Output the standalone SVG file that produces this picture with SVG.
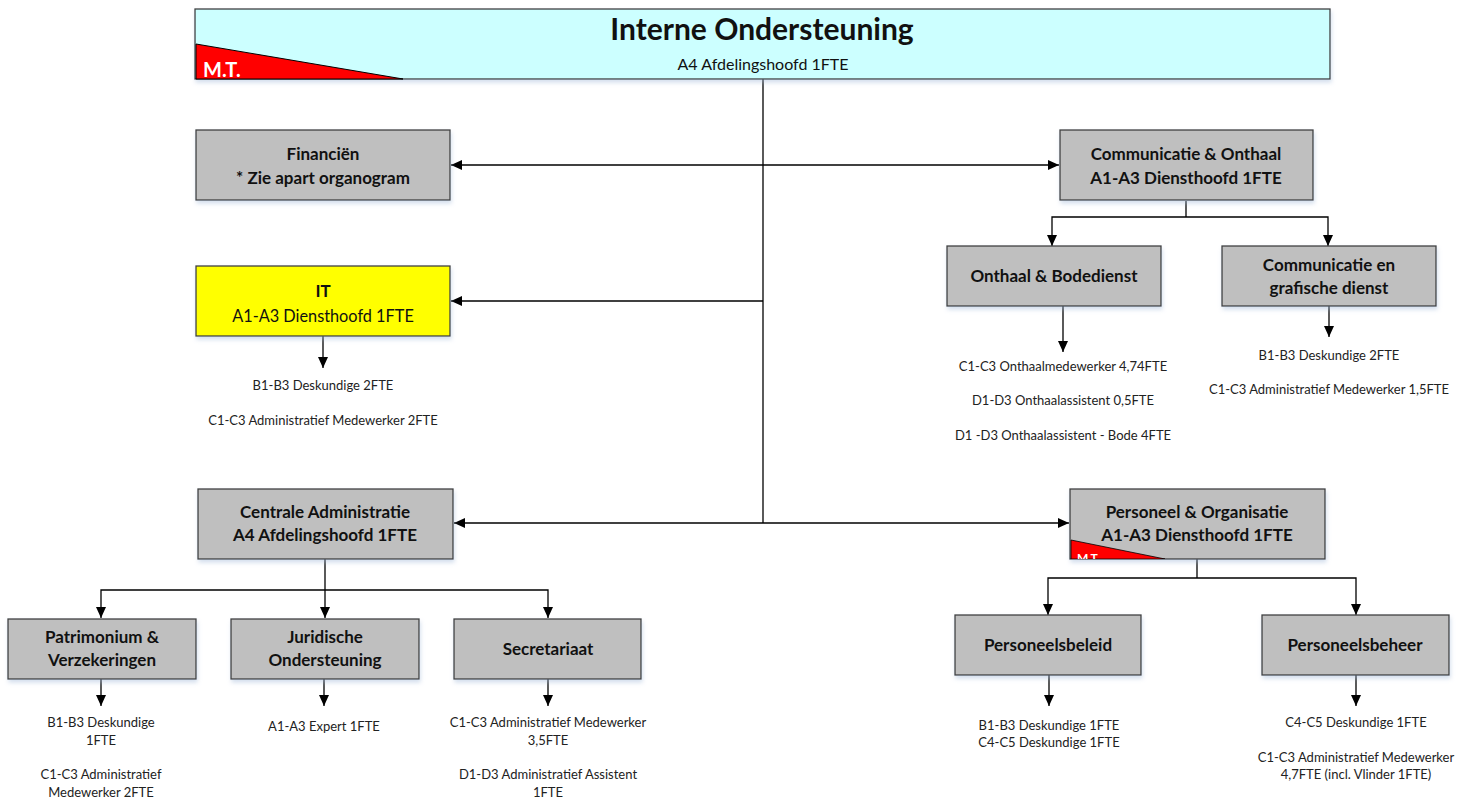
<svg xmlns="http://www.w3.org/2000/svg" width="1473" height="801" viewBox="0 0 1473 801">
<style>
.box{fill:#BFBFBF;stroke:#404040;stroke-width:1.3}
.b{font-family:Lato,"Liberation Sans",sans-serif;font-weight:bold;font-size:17px;fill:#111;text-anchor:middle}
.r{font-family:Lato,"Liberation Sans",sans-serif;font-size:16.3px;fill:#111;text-anchor:middle}
.s{font-family:Lato,"Liberation Sans",sans-serif;font-size:13px;fill:#222;text-anchor:middle}
.ln{fill:none;stroke:#000;stroke-width:1.3}
.mt{font-family:Lato,"Liberation Sans",sans-serif;font-weight:bold;fill:#fff}
</style>
<defs>
<marker id="ah" markerUnits="userSpaceOnUse" markerWidth="11" markerHeight="10" refX="11" refY="5" orient="auto-start-reverse">
<path d="M0,0 L11,5 L0,10 z" fill="#000"/>
</marker>
<filter id="sh" x="-5%" y="-5%" width="110%" height="120%">
<feDropShadow dx="1" dy="3" stdDeviation="2" flood-color="#9fb8d8" flood-opacity="0.45"/>
</filter>
<clipPath id="pclip"><rect x="1070" y="489" width="255" height="70"/></clipPath>
</defs>

<g id="connectors">
<line class="ln" x1="763" y1="79" x2="763" y2="523" stroke-width="2"/>
<line class="ln" x1="451" y1="165" x2="1059" y2="165" marker-start="url(#ah)" marker-end="url(#ah)"/>
<line class="ln" x1="763" y1="301" x2="451" y2="301" marker-end="url(#ah)"/>
<line class="ln" x1="454" y1="523" x2="1069" y2="523" marker-start="url(#ah)" marker-end="url(#ah)"/>
<line class="ln" x1="323" y1="336" x2="323" y2="368" marker-end="url(#ah)"/>
<polyline class="ln" points="1186,201 1186,217"/>
<polyline class="ln" points="1052,246 1052,217 1328,217 1328,246" marker-start="url(#ah)" marker-end="url(#ah)"/>
<line class="ln" x1="1063" y1="306" x2="1063" y2="352" marker-end="url(#ah)"/>
<line class="ln" x1="1329" y1="306" x2="1329" y2="337" marker-end="url(#ah)"/>
<line class="ln" x1="325" y1="559" x2="325" y2="618" stroke-width="2" marker-end="url(#ah)"/>
<polyline class="ln" points="101,618 101,590 548,590 548,618" marker-start="url(#ah)" marker-end="url(#ah)"/>
<line class="ln" x1="101" y1="679" x2="101" y2="706" marker-end="url(#ah)"/>
<line class="ln" x1="324" y1="679" x2="324" y2="706" marker-end="url(#ah)"/>
<line class="ln" x1="548" y1="679" x2="548" y2="706" marker-end="url(#ah)"/>
<line class="ln" x1="1197" y1="559" x2="1197" y2="578"/>
<polyline class="ln" points="1048,615 1048,578 1356,578 1356,615" marker-start="url(#ah)" marker-end="url(#ah)"/>
<line class="ln" x1="1049" y1="675" x2="1049" y2="706" marker-end="url(#ah)"/>
<line class="ln" x1="1356" y1="675" x2="1356" y2="706" marker-end="url(#ah)"/>
</g>

<g id="interne-ondersteuning">
<rect x="195" y="9" width="1135" height="70" fill="#CCFFFF" stroke="#404040" stroke-width="1.3" filter="url(#sh)"/>
<polygon points="196,44 196,79 403,79" fill="#FF0000" stroke="#000" stroke-width="1"/>
<text class="mt" x="203" y="77" style="font-size:20px">M.T.</text>
<text class="b" x="762" y="40" style="font-size:30px">Interne Ondersteuning</text>
<text class="r" x="763" y="70" style="font-size:16px">A4 Afdelingshoofd 1FTE</text>
</g>

<g id="financien">
<rect class="box" x="196" y="130" width="254" height="70" filter="url(#sh)"/>
<text class="b" x="323" y="160">Financiën</text>
<text class="b" x="323" y="184">* Zie apart organogram</text>
</g>

<g id="it">
<rect x="196" y="266" width="254" height="70" fill="#FFFF00" stroke="#404040" stroke-width="1.3" filter="url(#sh)"/>
<text class="b" x="323" y="297">IT</text>
<text class="r" x="323" y="322">A1-A3 Diensthoofd 1FTE</text>
<text class="s" x="323" y="390">B1-B3 Deskundige 2FTE</text>
<text class="s" x="323" y="425">C1-C3 Administratief Medewerker 2FTE</text>
</g>

<g id="communicatie-onthaal">
<rect class="box" x="1060" y="130" width="253" height="70" filter="url(#sh)"/>
<text class="b" x="1186" y="160">Communicatie &amp; Onthaal</text>
<text class="b" x="1186" y="184">A1-A3 Diensthoofd 1FTE</text>
</g>

<g id="onthaal-bodedienst">
<rect class="box" x="947" y="246" width="214" height="60" filter="url(#sh)"/>
<text class="b" x="1054" y="282">Onthaal &amp; Bodedienst</text>
<text class="s" x="1063" y="371">C1-C3 Onthaalmedewerker 4,74FTE</text>
<text class="s" x="1063" y="405">D1-D3 Onthaalassistent 0,5FTE</text>
<text class="s" x="1063" y="440">D1 -D3 Onthaalassistent - Bode 4FTE</text>
</g>

<g id="communicatie-grafisch">
<rect class="box" x="1222" y="246" width="214" height="60" filter="url(#sh)"/>
<text class="b" x="1329" y="271">Communicatie en</text>
<text class="b" x="1329" y="294">grafische dienst</text>
<text class="s" x="1329" y="360">B1-B3 Deskundige 2FTE</text>
<text class="s" x="1329" y="394">C1-C3 Administratief Medewerker 1,5FTE</text>
</g>

<g id="centrale-administratie">
<rect class="box" x="198" y="489" width="255" height="70" filter="url(#sh)"/>
<text class="b" x="325" y="518">Centrale Administratie</text>
<text class="b" x="325" y="541">A4 Afdelingshoofd 1FTE</text>
</g>

<g id="personeel-organisatie">
<rect class="box" x="1070" y="489" width="255" height="70" filter="url(#sh)"/>
<g clip-path="url(#pclip)">
<polygon points="1071,540 1071,559 1165,559" fill="#FF0000" stroke="#000" stroke-width="0.8"/>
<text class="mt" x="1077" y="562" style="font-size:12px">M.T.</text>
</g>
<text class="b" x="1197" y="518">Personeel &amp; Organisatie</text>
<text class="b" x="1197" y="541">A1-A3 Diensthoofd 1FTE</text>
</g>

<g id="patrimonium">
<rect class="box" x="8" y="619" width="188" height="60" filter="url(#sh)"/>
<text class="b" x="102" y="643">Patrimonium &amp;</text>
<text class="b" x="102" y="666">Verzekeringen</text>
<text class="s" x="101" y="727">B1-B3 Deskundige</text>
<text class="s" x="101" y="745">1FTE</text>
<text class="s" x="101" y="779">C1-C3 Administratief</text>
<text class="s" x="101" y="797">Medewerker 2FTE</text>
</g>

<g id="juridische">
<rect class="box" x="231" y="619" width="188" height="60" filter="url(#sh)"/>
<text class="b" x="325" y="643">Juridische</text>
<text class="b" x="325" y="666">Ondersteuning</text>
<text class="s" x="324" y="731">A1-A3 Expert 1FTE</text>
</g>

<g id="secretariaat">
<rect class="box" x="454" y="619" width="187" height="60" filter="url(#sh)"/>
<text class="b" x="548" y="655">Secretariaat</text>
<text class="s" x="548" y="727">C1-C3 Administratief Medewerker</text>
<text class="s" x="548" y="745">3,5FTE</text>
<text class="s" x="548" y="779">D1-D3 Administratief Assistent</text>
<text class="s" x="548" y="797">1FTE</text>
</g>

<g id="personeelsbeleid">
<rect class="box" x="955" y="615" width="186" height="60" filter="url(#sh)"/>
<text class="b" x="1048" y="651">Personeelsbeleid</text>
<text class="s" x="1049" y="730">B1-B3 Deskundige 1FTE</text>
<text class="s" x="1049" y="747">C4-C5 Deskundige 1FTE</text>
</g>

<g id="personeelsbeheer">
<rect class="box" x="1262" y="615" width="187" height="60" filter="url(#sh)"/>
<text class="b" x="1355" y="651">Personeelsbeheer</text>
<text class="s" x="1356" y="727">C4-C5 Deskundige 1FTE</text>
<text class="s" x="1356" y="762">C1-C3 Administratief Medewerker</text>
<text class="s" x="1356" y="779">4,7FTE (incl. Vlinder 1FTE)</text>
</g>
</svg>
